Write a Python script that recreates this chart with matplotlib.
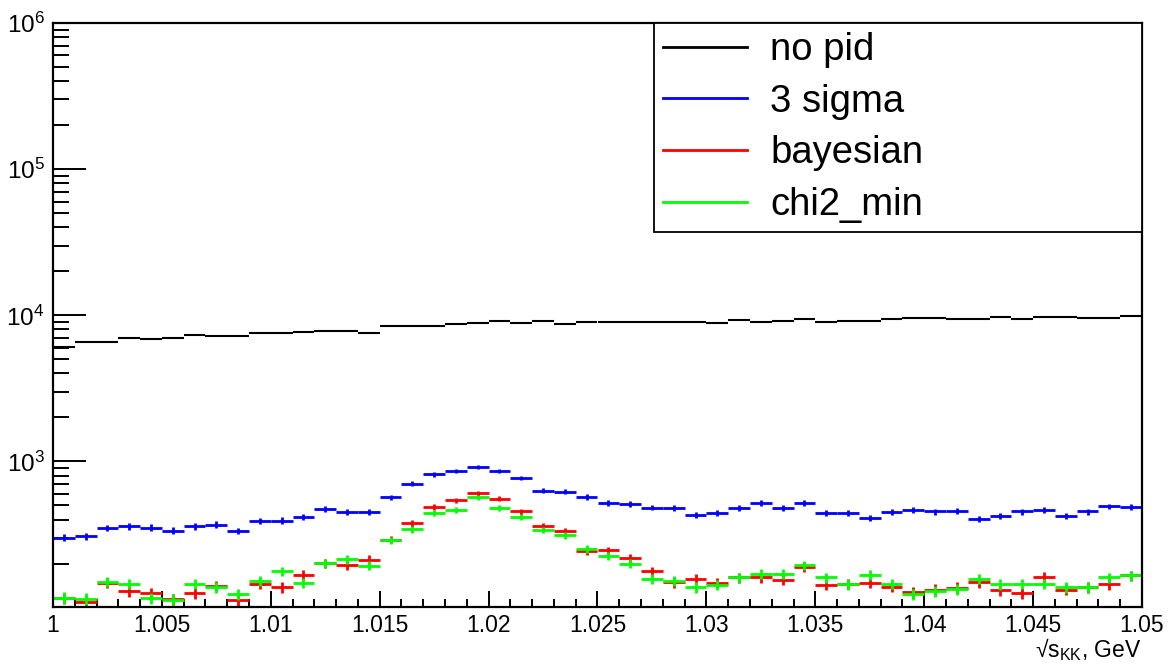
import numpy as np
import matplotlib
matplotlib.use("Agg")
import matplotlib.pyplot as plt
from matplotlib.lines import Line2D
from matplotlib.ticker import MultipleLocator, FixedLocator, FixedFormatter, LogLocator, NullFormatter

plt.rcParams['font.family'] = ['Liberation Sans', 'DejaVu Sans']
plt.rcParams['mathtext.fontset'] = 'custom'
plt.rcParams['mathtext.rm'] = 'Liberation Sans'
plt.rcParams['mathtext.it'] = 'Liberation Sans:italic'

# ---- data ----
x_edges = np.linspace(1.0, 1.05, 51)

no_pid = [6100, 6560, 6560, 7000, 6850, 7030, 7330, 7200, 7250, 7530,
          7530, 7720, 7800, 7820, 7600, 8500, 8500, 8500, 8750, 8800,
          9100, 8850, 9100, 8700, 8960, 8960, 8960, 9050, 9050, 8960,
          8850, 9330, 9050, 9100, 9400, 8960, 9100, 9100, 9500, 9600,
          9600, 9500, 9500, 9700, 9500, 9770, 9770, 9550, 9550, 9930]

sigma3 = [301, 309, 351, 360, 353, 337, 360, 370, 335, 392,
          394, 420, 473, 450, 452, 570, 703, 815, 858, 919,
          862, 773, 629, 622, 572, 518, 513, 484, 479, 431,
          447, 481, 521, 481, 518, 447, 447, 413, 452, 467,
          455, 459, 403, 424, 455, 467, 422, 455, 492, 489]

bayesian = [116, 110, 148, 130, 125, 114, 126, 141, 112, 146,
            138, 167, 202, 196, 213, 292, 378, 489, 541, 607,
            558, 455, 360, 333, 244, 246, 217, 177, 149, 157,
            148, 161, 161, 155, 190, 143, 146, 148, 139, 127,
            133, 137, 149, 131, 125, 162, 133, 138, 144, 166]

chi2_min = [117, 115, 150, 146, 116, 113, 146, 138, 123, 153,
            177, 148, 202, 214, 194, 289, 345, 443, 467, 570,
            479, 420, 340, 314, 251, 226, 200, 158, 152, 138,
            143, 161, 171, 171, 195, 161, 145, 168, 146, 124,
            130, 134, 158, 145, 146, 146, 138, 138, 161, 166]

series_labels = ["no pid", "3 sigma", "bayesian", "chi2_min"]
series_colors = ["#000000", "#0000ff", "#ff0000", "#00ff00"]
x_tick_vals = [1.0, 1.005, 1.01, 1.015, 1.02, 1.025, 1.03, 1.035, 1.04, 1.045, 1.05]
x_tick_labels = ["1", "1.005", "1.01", "1.015", "1.02", "1.025", "1.03", "1.035", "1.04", "1.045", "1.05"]

# ---- figure ----
W, H = 1173, 666
fig = plt.figure(figsize=(W / 100, H / 100), dpi=100)
ax_l, ax_r, ax_t, ax_b = 53, 1142, 23, 607
ax = fig.add_axes([ax_l / W, 1 - ax_b / H, (ax_r - ax_l) / W, (ax_b - ax_t) / H])

centers = 0.5 * (x_edges[:-1] + x_edges[1:])
halfw = 0.5 * (x_edges[1] - x_edges[0])

for vals, col in zip([no_pid, sigma3, bayesian, chi2_min], series_colors):
    v = np.asarray(vals, dtype=float)
    ax.errorbar(centers, v, xerr=halfw, yerr=np.sqrt(v), fmt='none',
                ecolor=col, elinewidth=2.0 if col != "#000000" else 1.5, capsize=0)

ax.set_yscale('log')
ax.set_xlim(1.0, 1.05)
ax.set_ylim(101, 1e6)

# ticks
ax.xaxis.set_major_locator(FixedLocator(x_tick_vals))
ax.xaxis.set_major_formatter(FixedFormatter(x_tick_labels))
ax.xaxis.set_minor_locator(MultipleLocator(0.001))
ax.yaxis.set_major_locator(LogLocator(base=10, numticks=10))
ax.yaxis.set_minor_locator(LogLocator(base=10, subs=np.arange(2, 10), numticks=20))
ax.yaxis.set_minor_formatter(NullFormatter())

ax.tick_params(axis='x', which='major', direction='in', length=11.5, width=1.4,
               labelsize=16.5, pad=5, top=False)
ax.tick_params(axis='x', which='minor', direction='in', length=6, width=1.4, top=False)
ax.tick_params(axis='y', which='major', direction='in', length=23.5, width=1.4,
               labelsize=17.5, pad=6, right=False)
ax.tick_params(axis='y', which='minor', direction='in', length=11.5, width=1.4, right=False)
for s in ax.spines.values():
    s.set_linewidth(1.6)

# x label
fig.text(1142 / W, 1 - 650 / H, r'√s$_{\mathregular{KK}}$, GeV', ha='right', va='center',
         fontsize=16.5)

# legend
handles = [Line2D([0], [0], color=c, lw=2) for c in series_colors]
lx0, lx1, ly0, ly1 = 654, 1142, 23, 229
leg = ax.legend(handles, series_labels, loc='upper left',
                bbox_to_anchor=(lx0 / W, 1 - ly1 / H, (lx1 - lx0) / W, (ly1 - ly0) / H),
                bbox_transform=fig.transFigure, mode='expand', borderaxespad=0,
                fontsize=27.5, frameon=True, fancybox=False, shadow=False,
                handlelength=2.2, handletextpad=0.6, labelspacing=0.41, borderpad=0.24)
leg.get_frame().set_edgecolor('black')
leg.get_frame().set_linewidth(1.3)
leg.get_frame().set_alpha(1)

fig.savefig("out.png", dpi=100)
